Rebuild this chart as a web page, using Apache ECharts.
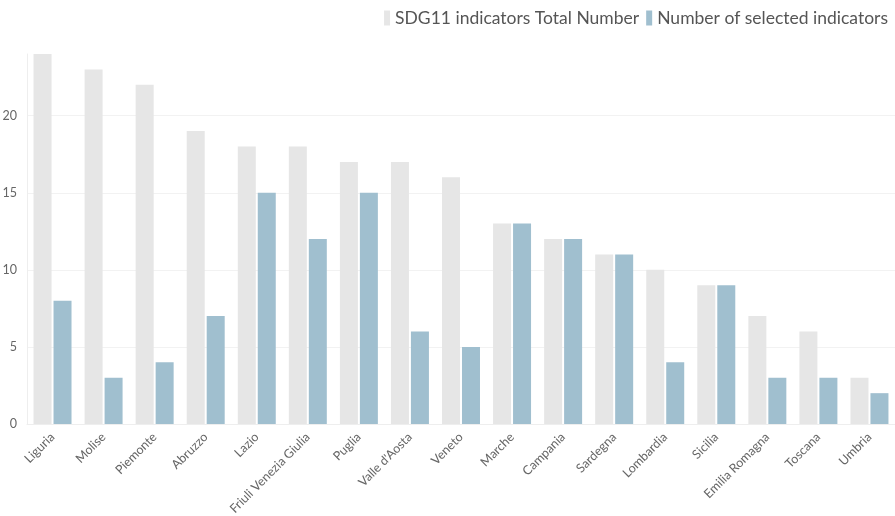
<!DOCTYPE html>
<html>
<head>
<meta charset="utf-8">
<script src="https://cdn.jsdelivr.net/npm/echarts@6/dist/echarts.min.js"></script>
<style>html,body{margin:0;padding:0;background:#fff}#c{width:895px;height:516px}</style>
</head>
<body>
<div id="c"></div>
<script>
const categories = ["Liguria","Molise","Piemonte","Abruzzo","Lazio","Friuli Venezia Giulia","Puglia","Valle d'Aosta","Veneto","Marche","Campania","Sardegna","Lombardia","Sicilia","Emilia Romagna","Toscana","Umbria"];
const totalIndicators = [24,23,22,19,18,18,17,17,16,13,12,11,10,9,7,6,3];
const selectedIndicators = [8,3,4,7,15,12,15,6,5,13,12,11,4,9,3,3,2];
const yTicks = [0,5,10,15,20];

const chart = echarts.init(document.getElementById('c'));
chart.setOption({
  animation: false,
  textStyle: {fontFamily: 'Lato'},
  legend: {
    top: 4, right: 2,
    icon: 'rect',
    itemWidth: 6, itemHeight: 15, itemGap: 7,
    textStyle: {fontSize: 17.5, color: '#555', fontFamily: 'Lato'},
    data: ['SDG11 indicators Total Number','Number of selected indicators']
  },
  grid: {left: 27, right: 0, top: 54, bottom: 92, containLabel: false, outerBoundsMode: 'none'},
  xAxis: {
    type: 'category',
    data: categories,
    axisLine: {lineStyle: {color: '#eeeeee'}},
    axisTick: {alignWithLabel: true, lineStyle: {color: '#e6e6e6'}, length: 5},
    axisLabel: {rotate: 45, color: '#666', fontSize: 12.5, margin: 11, interval: 0}
  },
  yAxis: {
    type: 'value', min: 0, max: 24, interval: 5,
    axisLine: {show: true, lineStyle: {color: '#eeeeee'}},
    axisTick: {show: false},
    axisLabel: {color: '#666', fontSize: 12.5, margin: 10, showMaxLabel: false,
      formatter: v => yTicks.includes(v) ? String(v) : ''},
    splitLine: {lineStyle: {color: ['#f2f2f2','#f2f2f2','#f2f2f2','#f2f2f2','#f2f2f2','rgba(0,0,0,0)']}}
  },
  series: [
    {name: 'SDG11 indicators Total Number', type: 'bar', data: totalIndicators,
     barWidth: 18, barGap: '11%', itemStyle: {color: '#e6e6e6'}},
    {name: 'Number of selected indicators', type: 'bar', data: selectedIndicators,
     barWidth: 18, itemStyle: {color: '#a0bfcf'}}
  ]
});
</script>
</body>
</html>
